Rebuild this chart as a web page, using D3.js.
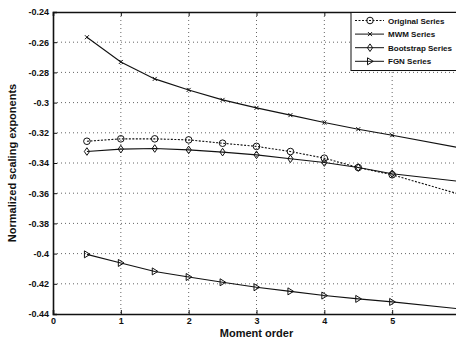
<!DOCTYPE html>
<html><head><meta charset="utf-8">
<script src="https://cdn.jsdelivr.net/npm/d3@7"></script>
<style>body{margin:0;background:#fff;overflow:hidden}svg{display:block}text{font-family:"Liberation Sans",Arial,sans-serif;font-weight:bold;fill:#111}</style>
</head><body>
<script>
const momentOrder = [0.5,1,1.5,2,2.5,3,3.5,4,4.5,5,6];
const originalSeries  = [-0.3256,-0.3240,-0.3240,-0.3247,-0.3269,-0.3290,-0.3324,-0.3368,-0.3430,-0.3478,-0.3608];
const mwmSeries       = [-0.2567,-0.2731,-0.2843,-0.2916,-0.2982,-0.3035,-0.3083,-0.3132,-0.3176,-0.3216,-0.3300];
const bootstrapSeries = [-0.3324,-0.3308,-0.3304,-0.3313,-0.3328,-0.3346,-0.3372,-0.3397,-0.3430,-0.3471,-0.3522];
const fgnSeries       = [-0.4005,-0.4062,-0.4118,-0.4155,-0.4190,-0.4223,-0.4250,-0.4278,-0.4300,-0.4320,-0.4366];
const xTicks = [0,1,2,3,4,5];
const yTicks = [-0.24,-0.26,-0.28,-0.3,-0.32,-0.34,-0.36,-0.38,-0.4,-0.42,-0.44];
const seriesNames = ["Original Series","MWM Series","Bootstrap Series","FGN Series"];
const markerCount = 10; // markers drawn at the first 10 orders

const W=456,H=342;
const m={l:53,t:12,r:460,b:314};
const svg=d3.select("body").append("svg").attr("width",W).attr("height",H);
const x=d3.scaleLinear().domain([0,6]).range([m.l,m.r]);
const y=d3.scaleLinear().domain([-0.44,-0.24]).range([m.b,m.t]);

// grid
const g=svg.append("g");
g.selectAll(".gy").data(yTicks.slice(1,-1)).join("line")
 .attr("x1",m.l).attr("x2",m.r).attr("y1",d=>y(d)).attr("y2",d=>y(d))
 .attr("stroke","#666").attr("stroke-width",1).attr("stroke-dasharray","1,3");
g.selectAll(".gx").data(xTicks.slice(1)).join("line")
 .attr("y1",m.t).attr("y2",m.b).attr("x1",d=>x(d)).attr("x2",d=>x(d))
 .attr("stroke","#666").attr("stroke-width",1).attr("stroke-dasharray","1,3");

// axes
const ax=svg.append("g").attr("transform",`translate(0,${m.b})`)
 .call(d3.axisBottom(x).tickValues(xTicks).tickSize(-4).tickPadding(4).tickFormat(d3.format("d")));
const ay=svg.append("g").attr("transform",`translate(${m.l},0)`)
 .call(d3.axisLeft(y).tickValues(yTicks).tickSize(-4).tickPadding(4).tickFormat(d=>String(+d.toFixed(2))));
const at=svg.append("g").attr("transform",`translate(0,${m.t})`)
 .call(d3.axisTop(x).tickValues(xTicks).tickSize(-4).tickFormat(""));
[ax,ay,at].forEach(a=>{a.selectAll("path").attr("stroke","#111").attr("stroke-width",1.6);
 a.selectAll("line").attr("stroke","#111");
 a.selectAll("text").style("font-size","9px").style("font-weight","bold").attr("fill","#111");});

// lines
const line=(vals)=>d3.line().x((d,i)=>x(momentOrder[i])).y(d=>y(d))(vals);
const data=[originalSeries,mwmSeries,bootstrapSeries,fgnSeries];
const dash=["2,1.5",null,null,null];
svg.append("clipPath").attr("id","c").append("rect").attr("x",m.l).attr("y",m.t).attr("width",m.r-m.l).attr("height",m.b-m.t);
const pg=svg.append("g").attr("clip-path","url(#c)");
data.forEach((vals,k)=>{
  pg.append("path").attr("d",line(vals)).attr("fill","none").attr("stroke","#111")
    .attr("stroke-width",1.1).attr("stroke-dasharray",dash[k]);
});
function marker(sel,k,cx,cy){
  const s=sel.append("g").attr("transform",`translate(${cx},${cy})`).attr("fill","none").attr("stroke","#111").attr("stroke-width",1);
  if(k===0) s.append("circle").attr("r",3.3);
  else if(k===1){s.append("path").attr("d","M-2,-2L2,2M-2,2L2,-2");}
  else if(k===2) s.append("path").attr("d","M0,-3.8L2.6,0L0,3.8L-2.6,0Z");
  else s.append("path").attr("d","M-2.5,-3.5L3.2,0L-2.5,3.5Z");
}
data.forEach((vals,k)=>{
  vals.forEach((v,i)=>{ if(i<markerCount) marker(pg,k,x(momentOrder[i]),y(v)); });
});

// legend
const lg=svg.append("g");
lg.append("rect").attr("x",351).attr("y",12.5).attr("width",110).attr("height",58)
  .attr("fill","#fff").attr("stroke","#111").attr("stroke-width",1);
seriesNames.forEach((n,k)=>{
  const yy=20.5+k*13.6;
  lg.append("line").attr("x1",355).attr("x2",384).attr("y1",yy).attr("y2",yy)
    .attr("stroke","#111").attr("stroke-width",1).attr("stroke-dasharray",dash[k]);
  marker(lg,k,370,yy);
  lg.append("text").attr("x",388).attr("y",yy+3).style("font-size","8px").text(n);
});

// titles
svg.append("text").attr("x",(m.l+m.r)/2).attr("y",337).attr("text-anchor","middle").style("font-size","11px").text("Moment order");
svg.append("text").attr("transform",`translate(16,${(m.t+m.b)/2}) rotate(-90)`).attr("text-anchor","middle").style("font-size","11px").text("Normalized scaling exponents");
</script>
</body></html>
